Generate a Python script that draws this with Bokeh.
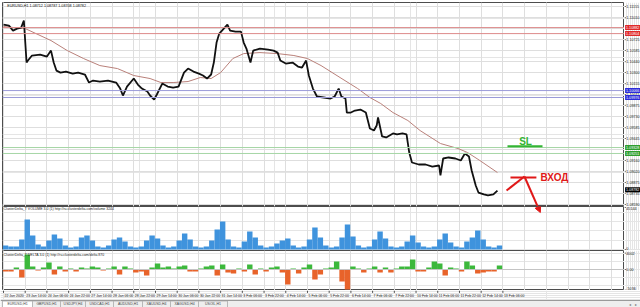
from bokeh.plotting import figure
from bokeh.layouts import column, row
from bokeh.models import (Range1d, FixedTicker, Grid, Span, Label, Arrow, NormalHead)
from bokeh.embed import file_html
from bokeh.resources import INLINE
from bokeh.core.properties import value

# ---------------- data ----------------
price_bar = [0, 4, 7, 10, 13, 15, 17, 18, 21, 27,
             32, 35, 37, 39, 42, 46, 51, 55, 60, 63,
             66, 71, 77, 83, 86, 88, 91, 96, 99, 102,
             106, 108, 111, 113, 117, 121, 125, 129, 133, 136,
             140, 144, 147, 150, 153, 155, 157, 159, 161, 165,
             167, 171, 175, 177, 179, 182, 184, 189, 195, 199,
             202, 204, 208, 213, 217, 220, 223, 225, 228, 231,
             236, 241, 244, 247, 249, 252, 253, 256, 259, 263,
             267, 270, 273, 275, 276, 279, 282, 287, 290, 294,
             297, 299, 301, 306, 311, 316, 321, 322, 324, 328,
             333, 337, 340, 343, 345, 348, 350, 354, 357, 361,
             364]
price_close = [1.10921, 1.10908, 1.10843, 1.10869, 1.10882, 1.10973, 1.10429, 1.10455, 1.10520, 1.10533,
               1.10507, 1.10584, 1.10429, 1.10325, 1.10299, 1.10312, 1.10286, 1.10299, 1.10274, 1.10170,
               1.10196, 1.10183, 1.10196, 1.10170, 1.10092, 1.10002, 1.10118, 1.10222, 1.10144, 1.10092,
               1.10053, 1.10002, 1.09950, 1.10015, 1.10157, 1.10118, 1.10105, 1.10118, 1.10299, 1.10351,
               1.10312, 1.10286, 1.10261, 1.10222, 1.10274, 1.10429, 1.10688, 1.10804, 1.10843, 1.10921,
               1.10843, 1.10830, 1.10830, 1.10688, 1.10610, 1.10429, 1.10584, 1.10610, 1.10597, 1.10584,
               1.10558, 1.10455, 1.10416, 1.10429, 1.10377, 1.10364, 1.10455, 1.10261, 1.10092, 1.09989,
               1.09976, 1.09963, 1.09989, 1.10092, 1.09989, 1.09963, 1.09781, 1.09781, 1.09807, 1.09820,
               1.09781, 1.09574, 1.09548, 1.09613, 1.09717, 1.09471, 1.09458, 1.09510, 1.09497, 1.09510,
               1.09497, 1.09263, 1.09134, 1.09108, 1.09108, 1.09082, 1.09095, 1.08966, 1.09186, 1.09199,
               1.09186, 1.09160, 1.09251, 1.09212, 1.09030, 1.08836, 1.08745, 1.08720, 1.08707, 1.08720,
               1.08771]

ma_bar = [0, 16, 35, 47, 59, 71, 84, 96, 108, 116,
          125, 136, 145, 153, 160, 169, 177, 189, 202, 214,
          224, 234, 248, 261, 270, 278, 287, 298, 307, 322,
          335, 342, 351, 364]
ma_value = [1.10895, 1.10869, 1.10714, 1.10584, 1.10481, 1.10390, 1.10351, 1.10261, 1.10222, 1.10170,
            1.10170, 1.10183, 1.10235, 1.10222, 1.10299, 1.10481, 1.10545, 1.10558, 1.10545, 1.10520,
            1.10481, 1.10390, 1.10235, 1.10092, 1.09976, 1.09898, 1.09781, 1.09678, 1.09548, 1.09380,
            1.09315, 1.09263, 1.09160, 1.09004]

# volume and delta, one value per group of 4 hourly bars
volume = [4300, 3230, 3230, 10750, 32250, 15050, 5380, 3230, 9680, 16130,
          11830, 4300, 2150, 3230, 12900, 15050, 9680, 3230, 2150, 4300,
          10750, 12900, 8600, 3230, 2150, 3230, 9680, 15050, 11830, 4300,
          2150, 3230, 9680, 17200, 10750, 3230, 2150, 3230, 9680, 21500,
          30100, 10750, 3230, 2150, 8600, 19350, 12900, 4300, 2150, 3230,
          6450, 9680, 11830, 4300, 2150, 3230, 10750, 23650, 12900, 4300,
          2150, 3230, 12900, 26880, 13980, 4300, 2150, 3230, 10750, 19350,
          11830, 3230, 2150, 3230, 8600, 15050, 7530, 3230, 2150, 3230,
          10750, 17200, 7530, 3230, 2150, 8600, 12900, 20430, 10750, 3230,
          2150, 4300]
delta = [-488, -488, 488, -1952, 3660, 732, -244, 488, 1708, -1220,
         732, -488, 244, -488, 488, 244, 732, 488, -244, 244,
         732, -1220, 732, 244, -732, -488, -1464, 488, 1464, 488,
         732, 244, 732, 976, -488, -488, 244, 732, 976, -1464,
         1220, -732, -976, 244, -488, 1220, -1220, 244, -488, 488,
         732, -732, -3660, 244, -976, 488, 1220, -2440, -1220, 244,
         488, 1952, -2928, -4880, 732, 244, -732, 244, 732, -732,
         488, -732, 244, 732, 732, 2440, -488, -488, 488, 1952,
         1464, -1464, 488, 244, -488, 1952, 976, -976, -732, -488,
         -488, 976]
GROUP = 4

time_labels = ["22 Jan 2020", "23 Jan 14:00", "24 Jan 06:00", "24 Jan 22:00", "27 Jan 14:00",
               "28 Jan 06:00", "28 Jan 22:00", "29 Jan 14:00", "30 Jan 06:00", "30 Jan 22:00",
               "31 Jan 14:00", "3 Feb 06:00", "3 Feb 22:00", "4 Feb 14:00", "5 Feb 06:00",
               "5 Feb 22:00", "6 Feb 14:00", "7 Feb 06:00", "7 Feb 22:00", "10 Feb 14:00",
               "11 Feb 06:00", "11 Feb 22:00", "12 Feb 14:00", "13 Feb 06:00"]
LABEL_STEP = 16

price_ticks = [1.11155, 1.11010, 1.10870, 1.10725, 1.10585, 1.10440, 1.10300, 1.10155, 1.10015,
               1.09875, 1.09730, 1.09585, 1.09445, 1.09305, 1.09160, 1.09020, 1.08875, 1.08735, 1.08590]
hidden_ticks = [1.10870, 1.09305]

levels_red = [1.10882, 1.10804]
levels_blue = [1.10066, 1.09976]
levels_green = [1.09328, 1.09251]
last_price = 1.08782

volume_ticks = [0, 45144]
delta_ticks = [-5036, 0, 4002]
delta_tick_text = ["-5036", "0.00", "4002"]

tab_names = ["EURUSD,H1", "GBPUSD,H1", "USDJPY,H4", "USDCAD,H1", "AUDUSD,H1",
             "XAUUSD,H4", "XAGUSD,H4", "USOIL,H1"]

# ---------------- layout / style ----------------
FONT = "Liberation Sans"
PX_PER_BAR = 1.357
FRAME_W = 622
X_START = -0.74
X_END = X_START + FRAME_W / PX_PER_BAR
xr = Range1d(X_START, X_END)
GRID_COLOR = "#dedede"
FRAME_COLOR = "#4d4d4d"
AX_FS = "3.7px"
SIDE_W = 16

grid_idx = list(range(0, int(X_END), LABEL_STEP))
label_idx = [i * LABEL_STEP for i in range(len(time_labels))]


def panel(frame_h, yr, top=0, bottom=0):
    p = figure(frame_width=FRAME_W, frame_height=frame_h, x_range=xr, y_range=yr,
               output_backend="svg", toolbar_location=None,
               x_axis_location=None, y_axis_location=None,
               min_border_left=2, min_border_right=0,
               min_border_top=top, min_border_bottom=bottom)
    p.outline_line_color = FRAME_COLOR
    p.outline_line_width = 1
    p.background_fill_color = "white"
    p.border_fill_color = "white"
    p.add_layout(Grid(dimension=0, ticker=FixedTicker(ticks=grid_idx),
                      grid_line_color=GRID_COLOR))
    return p


def side(frame_h, yr, ticks, texts, offsets=None, top=0, bottom=0):
    """price scale strip on the right of a panel"""
    s = figure(frame_width=SIDE_W, frame_height=frame_h, x_range=Range1d(0, SIDE_W), y_range=yr,
               output_backend="svg", toolbar_location=None,
               x_axis_location=None, y_axis_location=None,
               min_border_left=0, min_border_right=0,
               min_border_top=top, min_border_bottom=bottom)
    s.outline_line_color = None
    s.background_fill_color = "white"
    s.border_fill_color = "white"
    s.segment(x0=0, x1=1.3, y0=ticks, y1=ticks, line_color=FRAME_COLOR, line_width=1)
    s.text(x=1.8, y=ticks, text=texts, y_offset=offsets if offsets else 0,
           text_font=value(FONT), text_font_size=AX_FS,
           text_color="#222222", text_align="left", text_baseline="middle")
    return s


def level_tags(s, levels, color):
    s.rect(x=SIDE_W / 2 + 0.3, y=levels, width=SIDE_W - 0.6, height=5, height_units="screen",
           fill_color=color, line_color=None)
    s.text(x=1.5, y=levels, text=[f"{v:.5f}" for v in levels], text_font=value(FONT),
           text_font_size=AX_FS, text_color="white", text_align="left", text_baseline="middle")


# ---------------- price panel ----------------
yr_price = Range1d(1.08564, 1.11207)
pp = panel(204, yr_price, top=2)
pp.add_layout(Grid(dimension=1, ticker=FixedTicker(ticks=price_ticks), grid_line_color=GRID_COLOR))

for lv in levels_red:
    pp.add_layout(Span(location=lv, dimension="width", line_color="#dd8a8a", line_width=1))
for lv in levels_blue:
    pp.add_layout(Span(location=lv, dimension="width", line_color="#9a9ad8", line_width=1))
for lv in levels_green:
    pp.add_layout(Span(location=lv, dimension="width", line_color="#a6d6a6", line_width=1))

pp.line(ma_bar, ma_value, line_color="#b9807a", line_width=1)
pp.line(price_bar, price_close, line_color="#111111", line_width=1.8)

pp.add_layout(Label(x=X_START + 3.5, y=1.11167,
                    text="EURUSD,H1  1.08712 1.08787 1.08708 1.08782",
                    text_font=FONT, text_font_size="3.7px", text_color="#111111",
                    text_baseline="middle"))

# trade drawing: SL mark and entry arrow
RED = "#e01818"
GREEN = "#33b533"
pp.add_layout(Label(x=384.7, y=1.09410, text="SL", text_font=FONT, text_font_size="10px",
                    text_font_style="bold", text_color=GREEN, text_align="center",
                    text_baseline="middle"))
pp.add_layout(Arrow(end=None, x_start=371.4, y_start=1.09345, x_end=397.2, y_end=1.09345,
                    line_color=GREEN, line_width=2))
pp.add_layout(Arrow(end=None, x_start=370.7, y_start=1.08771, x_end=383.9, y_end=1.08953,
                    line_color=RED, line_width=2))
pp.add_layout(Arrow(end=None, x_start=373.6, y_start=1.08940, x_end=392.7, y_end=1.08940,
                    line_color=RED, line_width=2))
pp.add_layout(Arrow(end=None, x_start=383.9, y_start=1.08953, x_end=393.6, y_end=1.08564,
                    line_color=RED, line_width=2))
pp.add_layout(Label(x=395.7, y=1.08940, text="ВХОД", text_font=FONT, text_font_size="10px",
                    text_font_style="bold", text_color=RED, text_align="left",
                    text_baseline="middle"))

shown_ticks = [t for t in price_ticks if t not in hidden_ticks]
sp = side(204, yr_price, shown_ticks, [f"{t:.5f}" for t in shown_ticks], top=2)
level_tags(sp, levels_red, "#e02a2a")
level_tags(sp, levels_blue, "#2b2bd8")
level_tags(sp, levels_green, "#2e9e2e")
level_tags(sp, [last_price], "#000000")

# ---------------- volume panel ----------------
yr_vol = Range1d(-1000, 46200)
pv = panel(44, yr_vol)
vx = [k * GROUP + (GROUP - 1) / 2 for k in range(len(volume))]
pv.vbar(x=vx, top=volume, bottom=0, width=GROUP, fill_color="#3f93dd", line_color=None)
pv.add_layout(Label(x=X_START + 0.8, y=43000,
                    text="ClusterDelta_T VOLUME 3.0 (1) http://ru.clusterdelta.com/volume 3244",
                    text_font=FONT, text_font_size="3.5px", text_color="#222222",
                    text_baseline="middle"))
pv.add_layout(Arrow(end=NormalHead(size=6, fill_color=RED, line_color=RED),
                    x_start=393.6, y_start=46200, x_end=395.6, y_end=39760,
                    line_color=RED, line_width=2))
sv = side(44, yr_vol, volume_ticks, [str(v) for v in volume_ticks], offsets=[-1.5, 1])

# ---------------- delta panel ----------------
yr_delta = Range1d(-5124, 4636)
pdl = panel(40, yr_delta)
pdl.add_layout(Span(location=0, dimension="width", line_color="#c4c4c4", line_width=1))
dx = [k * GROUP + (GROUP - 1) / 2 for k in range(len(delta))]
dcol = ["#3cb83c" if d >= 0 else "#e8632a" for d in delta]
pdl.vbar(x=dx, top=delta, bottom=0, width=GROUP, fill_color=dcol, line_color=None)
pdl.add_layout(Label(x=X_START + 0.8, y=3500,
                     text="ClusterDelta_T DELTA 3.0 (1) http://ru.clusterdelta.com/delta 870",
                     text_font=FONT, text_font_size="3.5px", text_color="#222222",
                     text_baseline="middle"))
sd = side(40, yr_delta, delta_ticks, delta_tick_text, offsets=[-1.5, 0, 0.5])

# ---------------- time scale + symbol tabs ----------------
TAB_EDGES = [2, 32, 60, 85, 113, 142, 170, 198, 227]
pb = figure(frame_width=640, frame_height=17,
            x_range=Range1d(X_START - 2 / PX_PER_BAR, X_START + 638 / PX_PER_BAR),
            y_range=Range1d(0, 17), extra_x_ranges={"px": Range1d(0, 640)},
            output_backend="svg", toolbar_location=None,
            x_axis_location=None, y_axis_location=None,
            min_border_left=0, min_border_right=0, min_border_top=0, min_border_bottom=0)
pb.outline_line_color = None
pb.background_fill_color = "white"
pb.border_fill_color = "white"
pb.segment(x0=label_idx, x1=label_idx, y0=17, y1=14.6, line_color=FRAME_COLOR, line_width=1)
pb.text(x=label_idx, y=11.4, text=time_labels, x_offset=1, text_font=value(FONT),
        text_font_size="3.5px", text_color="#222222", text_align="left", text_baseline="middle")
pb.quad(left=0, right=640, bottom=0, top=7, x_range_name="px",
        fill_color="#eeeeee", line_color=None)
lefts = TAB_EDGES[:-1]
rights = TAB_EDGES[1:]
fills = ["white"] + ["#eeeeee"] * (len(tab_names) - 1)
pb.quad(left=lefts, right=rights, bottom=0, top=6.5, x_range_name="px",
        fill_color=fills, line_color="#b8b8b8", line_width=1)
pb.text(x=[(a + b) / 2 for a, b in zip(lefts, rights)], y=[3.3] * len(tab_names), text=tab_names,
        x_range_name="px", text_font=value(FONT), text_font_size="3.5px", text_color="#444444",
        text_align="center", text_baseline="middle")
pb.text(x=[629, 635], y=[3.3, 3.3], text=["◂", "▸"], x_range_name="px",
        text_font=value(FONT), text_font_size="4px", text_color="#777777",
        text_align="center", text_baseline="middle")
pb.add_layout(Span(location=7, dimension="width", line_color="#9a9a9a", line_width=1))

layout = column(row(pp, sp, spacing=0), row(pv, sv, spacing=0), row(pdl, sd, spacing=0), pb,
                spacing=0)
open("out.html", "w").write(file_html(layout, INLINE))
